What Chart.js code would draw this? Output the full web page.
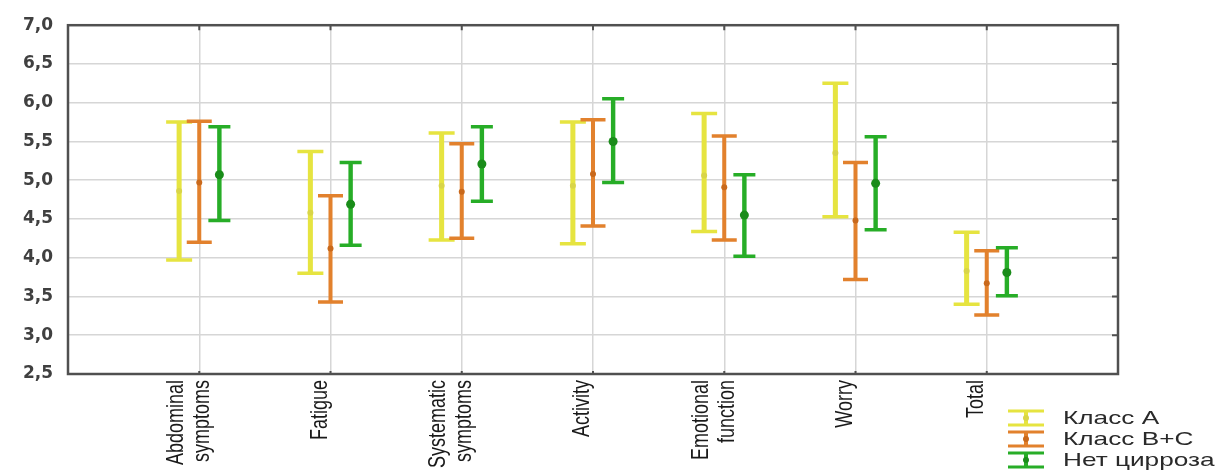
<!DOCTYPE html>
<html>
<head>
<meta charset="utf-8">
<script src="https://cdn.jsdelivr.net/npm/chart.js@4/dist/chart.umd.min.js"></script>
<style>
  html, body { margin: 0; padding: 0; background: #fff; }
</style>
</head>
<body>
<canvas id="grafico" width="1225" height="472"></canvas>
<script>
// categorias del eje X (multilinea)
var CATEGORIAS = [['Abdominal', 'symptoms'], 'Fatigue', ['Systematic', 'symptoms'], 'Activity', ['Emotional', 'function'], 'Worry', 'Total'];
var SERIES = ['Класс A', 'Класс B+C', 'Нет цирроза'];

// Класс A
var A_MIN  = [3.97, 3.80, 4.23, 4.18, 4.34, 4.53, 3.40];
var A_MAX  = [5.75, 5.37, 5.61, 5.75, 5.86, 6.25, 4.33];
var A_MEDIA = [4.86, 4.58, 4.93, 4.93, 5.06, 5.35, 3.83];
// Класс B+C
var BC_MIN  = [4.20, 3.43, 4.25, 4.41, 4.23, 3.72, 3.26];
var BC_MAX  = [5.76, 4.80, 5.47, 5.78, 5.57, 5.23, 4.09];
var BC_MEDIA = [4.97, 4.12, 4.85, 5.08, 4.91, 4.48, 3.67];
// Нет цирроза
var N_MIN  = [4.48, 4.16, 4.73, 4.97, 4.02, 4.36, 3.51];
var N_MAX  = [5.69, 5.23, 5.69, 6.05, 5.07, 5.56, 4.13];
var N_MEDIA = [5.07, 4.69, 5.21, 5.50, 4.55, 4.96, 3.81];

var Y_MIN = 2.5, Y_MAX = 7.0, Y_PASO = 0.5;

var COLORES = ['#e6e440', '#e2812d', '#27ad27'];
var COLORES_MEDIA = ['#d9d548', '#c9691c', '#1a8c1a'];

// un hueco vacio a cada lado, como en el original
var etiquetas = [''].concat(CATEGORIAS, ['']);
function rango(mins, maxs) {
	var r = [null];
	for (var i = 0; i < mins.length; i++) r.push([mins[i], maxs[i]]);
	r.push(null);
	return r;
}
var MEDIAS = [A_MEDIA, BC_MEDIA, N_MEDIA];

var pluginErrores = {
	id: 'errores',
	afterDatasetsDraw: function(chart) {
		var ctx = chart.ctx;
		var y = chart.scales.y;
		var anchos = [26, 25, 22];
		chart.data.datasets.forEach(function(ds, i) {
			var meta = chart.getDatasetMeta(i);
			meta.data.forEach(function(bar, j) {
				var v = ds.data[j];
				if (!v) return;
				var x = bar.x;
				var y1 = y.getPixelForValue(v[1]);
				var y0 = y.getPixelForValue(v[0]);
				ctx.save();
				ctx.strokeStyle = COLORES[i];
				ctx.lineWidth = 3.5;
				ctx.beginPath();
				ctx.moveTo(x - anchos[i] / 2, y1); ctx.lineTo(x + anchos[i] / 2, y1);
				ctx.moveTo(x - anchos[i] / 2, y0); ctx.lineTo(x + anchos[i] / 2, y0);
				ctx.stroke();
				var ym = y.getPixelForValue(MEDIAS[i][j - 1]);
				ctx.fillStyle = COLORES_MEDIA[i];
				ctx.beginPath();
				ctx.arc(x, ym, i == 2 ? 4.5 : 3, 0, Math.PI * 2);
				ctx.fill();
				ctx.restore();
			});
		});
	},
	afterDraw: function(chart) {
		var ctx = chart.ctx;
		var a = chart.chartArea;
		var sx = chart.scales.x;
		ctx.save();
		ctx.strokeStyle = '#505050';
		ctx.lineWidth = 2.5;
		ctx.strokeRect(a.left, a.top, a.right - a.left, a.bottom - a.top);
		ctx.lineWidth = 2;
		ctx.beginPath();
		for (var j = 1; j <= CATEGORIAS.length; j++) {
			var px = sx.getPixelForValue(j);
			ctx.moveTo(px, a.top); ctx.lineTo(px, a.top + 5);
			ctx.moveTo(px, a.bottom); ctx.lineTo(px, a.bottom - 3);
		}
		for (var v = Y_MIN + Y_PASO; v < Y_MAX; v += Y_PASO) {
			var py = chart.scales.y.getPixelForValue(v);
			ctx.moveTo(a.right - 6, py); ctx.lineTo(a.right, py);
		}
		ctx.stroke();

		// etiquetas del eje X, giradas y estrechas
		var lh = 26;
		for (var k = 1; k <= CATEGORIAS.length; k++) {
			var lineas = [].concat(etiquetas[k]);
			var px2 = sx.getPixelForValue(k) - 10;
			ctx.save();
			ctx.translate(px2, a.bottom + 6);
			ctx.rotate(-Math.PI / 2);
			ctx.scale(1, 1.3);
			ctx.fillStyle = '#1a1a1a';
			ctx.font = '18px "Liberation Sans", Arial, sans-serif';
			ctx.textAlign = 'right';
			ctx.textBaseline = 'middle';
			lineas.forEach(function(t, n) {
				var off = (n - (lineas.length - 1) / 2) * lh / 1.3;
				ctx.fillText(t, 0, off);
			});
			ctx.restore();
		}

		// leyenda
		var filas = [418, 439, 460];
		filas.forEach(function(cy, i) {
			var cx = 1026;
			ctx.strokeStyle = COLORES[i];
			ctx.lineWidth = 4;
			ctx.beginPath();
			ctx.moveTo(cx, cy - 7); ctx.lineTo(cx, cy + 7);
			ctx.stroke();
			ctx.lineWidth = 3;
			ctx.beginPath();
			ctx.moveTo(cx - 18, cy - 7); ctx.lineTo(cx + 18, cy - 7);
			ctx.moveTo(cx - 18, cy + 7); ctx.lineTo(cx + 18, cy + 7);
			ctx.stroke();
			ctx.fillStyle = COLORES_MEDIA[i];
			ctx.beginPath();
			ctx.arc(cx, cy, 3, 0, Math.PI * 2);
			ctx.fill();
			ctx.save();
			ctx.translate(1063, cy);
			ctx.scale(1.38, 1);
			ctx.fillStyle = '#2a2a2a';
			ctx.font = '19px "Liberation Sans", Arial, sans-serif';
			ctx.textBaseline = 'middle';
			ctx.fillText(chart.data.datasets[i].label, 0, 1);
			ctx.restore();
		});
		ctx.restore();
	}
};

var ctx = document.getElementById('grafico').getContext('2d');
var grafico = new Chart(ctx, {
	type: 'bar',
	data: {
		labels: etiquetas,
		datasets: [
			{ label: SERIES[0], data: rango(A_MIN, A_MAX), backgroundColor: COLORES[0], barPercentage: 0.25, categoryPercentage: 0.46 },
			{ label: SERIES[1], data: rango(BC_MIN, BC_MAX), backgroundColor: COLORES[1], barPercentage: 0.2, categoryPercentage: 0.46 },
			{ label: SERIES[2], data: rango(N_MIN, N_MAX), backgroundColor: COLORES[2], barPercentage: 0.22, categoryPercentage: 0.46 }
		]
	},
	options: {
		responsive: false,
		animation: false,
		devicePixelRatio: 1,
		layout: { padding: { top: 20, right: 107, left: 0, bottom: 0 } },
		plugins: {
			legend: { display: false },
			tooltip: { enabled: false }
		},
		scales: {
			x: {
				type: 'category',
				offset: false,
				grid: { offset: false, color: '#d6d6d6', lineWidth: 1.5, drawTicks: false },
				border: { display: false },
				ticks: { display: false, autoSkip: false },
				afterFit: function(s) { s.height = 98; }
			},
			y: {
				min: Y_MIN,
				max: Y_MAX,
				grid: { color: '#d6d6d6', lineWidth: 1.5, drawTicks: false },
				border: { display: false },
				ticks: {
					stepSize: Y_PASO,
					padding: 15,
					color: '#404040',
					font: { family: '"DejaVu Sans", sans-serif', size: 17, weight: 'bold' },
					callback: function(v) { return v.toFixed(1).replace('.', ','); }
				},
				afterFit: function(s) { s.width = 68; }
			}
		}
	},
	plugins: [pluginErrores]
});
</script>
</body>
</html>
